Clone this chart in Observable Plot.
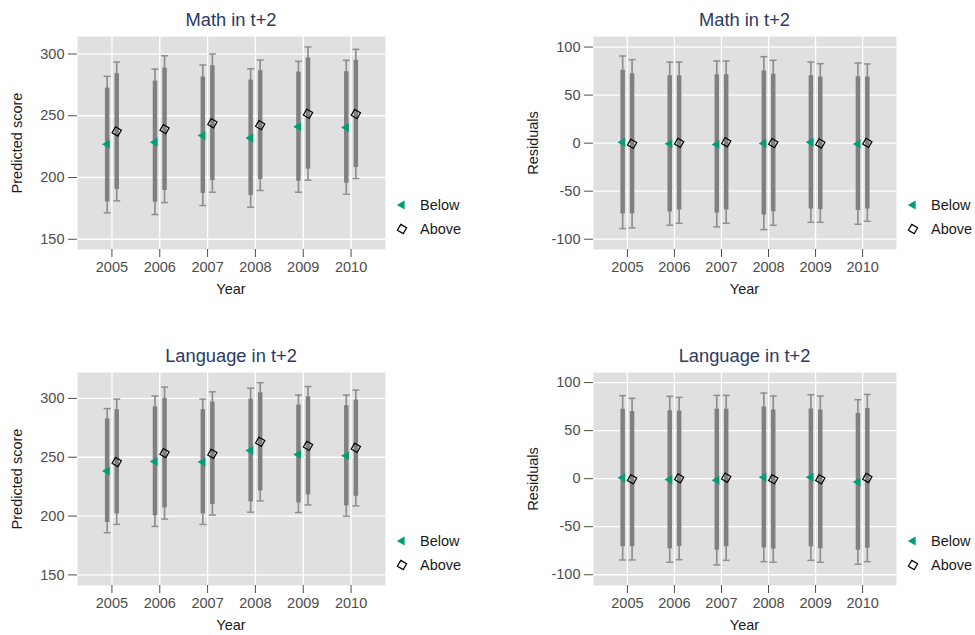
<!DOCTYPE html>
<html>
<head>
<meta charset="utf-8">
<script src="https://cdn.jsdelivr.net/npm/d3@7"></script>
<script src="https://cdn.jsdelivr.net/npm/@observablehq/plot@0.6"></script>
<style>
  body { margin: 0; background: #ffffff; }
  #root { position: relative; width: 975px; height: 635px; overflow: hidden;
          font-family: "Liberation Sans", Arial, sans-serif; }
  #root svg.panel { position: absolute; }
  .t { position: absolute; white-space: nowrap; }
</style>
</head>
<body>
<div id="root"></div>
<script>
// ---------------- data ----------------
const years = [2005, 2006, 2007, 2008, 2009, 2010];
const groups = ["Below", "Above"];
const scoreTicks = [150, 200, 250, 300];
const residTicks = [-100, -50, 0, 50, 100];
const panelTitles = ["Math in t+2", "Math in t+2", "Language in t+2", "Language in t+2"];
const yLabels = ["Predicted score", "Residuals", "Predicted score", "Residuals"];

// rows per year: [point, boxLow, boxHigh, whiskerLow, whiskerHigh]
const mathScoreBelow = [
  [227.0, 180.3, 272.4, 171.4, 281.9],
  [228.6, 180.0, 278.1, 170.0, 287.8],
  [234.0, 187.0, 281.4, 177.3, 291.1],
  [231.9, 185.4, 278.9, 175.9, 288.1],
  [241.1, 197.0, 285.4, 188.1, 294.1],
  [240.5, 195.4, 285.7, 186.5, 294.9]
];
const mathScoreAbove = [
  [237.3, 190.3, 284.0, 181.1, 293.5],
  [239.2, 189.5, 288.6, 179.7, 298.6],
  [244.0, 197.6, 290.5, 188.1, 300.0],
  [242.4, 198.4, 286.5, 189.5, 295.1],
  [251.6, 206.8, 296.8, 197.8, 305.7],
  [251.4, 208.1, 294.9, 199.2, 303.8]
];
const mathResidBelow = [
  [1.0, -73.7, 75.8, -88.9, 90.7],
  [-0.7, -71.6, 70.2, -85.5, 84.4],
  [-1.4, -72.7, 71.3, -87.2, 85.5],
  [-0.3, -74.7, 75.1, -90.0, 90.0],
  [1.0, -68.5, 70.2, -82.4, 84.4],
  [-1.0, -70.2, 69.2, -84.4, 83.4]
];
const mathResidAbove = [
  [-0.7, -73.4, 72.3, -88.2, 86.9],
  [0.3, -69.6, 70.2, -83.4, 84.4],
  [1.0, -69.6, 71.3, -83.4, 85.5],
  [0.0, -71.3, 71.6, -85.5, 86.2],
  [-0.3, -69.2, 68.9, -82.4, 82.7],
  [0.3, -68.5, 68.9, -81.3, 82.4]
];
const langScoreBelow = [
  [238.3, 194.6, 282.5, 185.8, 291.3],
  [246.4, 200.2, 292.7, 191.2, 302.0],
  [245.9, 201.9, 290.4, 192.9, 299.4],
  [255.7, 212.0, 299.4, 203.3, 308.7],
  [252.4, 211.2, 294.4, 203.0, 302.8],
  [251.2, 208.7, 293.8, 199.9, 302.8]
];
const langScoreAbove = [
  [245.9, 201.9, 290.4, 192.9, 299.4],
  [253.5, 207.0, 300.0, 197.4, 309.6],
  [252.9, 209.8, 296.9, 200.8, 305.6],
  [263.1, 221.3, 304.8, 212.9, 313.3],
  [259.7, 218.0, 301.4, 209.5, 310.1],
  [258.0, 216.8, 298.6, 208.7, 307.0]
];
const langResidBelow = [
  [1.0, -70.8, 72.2, -84.6, 86.4],
  [-1.0, -72.9, 70.8, -87.0, 85.7],
  [-1.7, -74.6, 72.2, -89.8, 86.7],
  [1.4, -72.2, 74.6, -86.4, 89.1],
  [1.4, -70.8, 72.5, -85.0, 87.4],
  [-3.5, -74.6, 67.7, -89.1, 82.2]
];
const langResidAbove = [
  [-0.7, -70.8, 69.8, -84.6, 83.6],
  [0.3, -70.5, 70.5, -84.3, 84.6],
  [1.0, -70.8, 72.2, -85.0, 86.7],
  [-0.7, -73.2, 71.5, -87.0, 86.0],
  [-0.7, -72.9, 71.5, -87.0, 86.0],
  [0.7, -72.5, 72.9, -86.4, 87.7]
];

// ---------------- styling / layout ----------------
const DODGE = 0.1;
const FONT = "'Liberation Sans', Arial, sans-serif";
const GREEN = "#009e73";
const PANEL_BG = "#e0e0e0";
const BOX_COLOR = "#808080";
const WHISKER_COLOR = "#8f8f8f";
const TITLE_COLOR = "#2b3a64";
const TICK_COLOR = "#4d4d4d";
const TRI_R = 5.2;
const SQ_R = 3.4;

const layouts = [
  {left: 0,   top: 0,   width: 487, ml: 77,  mr: 102, domain: [141.7, 314.2], ticks: scoreTicks, below: mathScoreBelow, above: mathScoreAbove},
  {left: 487, top: 0,   width: 488, ml: 106, mr: 79,  domain: [-110.7, 111],  ticks: residTicks, below: mathResidBelow, above: mathResidAbove},
  {left: 0,   top: 336, width: 487, ml: 77,  mr: 102, domain: [141, 322],     ticks: scoreTicks, below: langScoreBelow, above: langScoreAbove},
  {left: 487, top: 336, width: 488, ml: 106, mr: 79,  domain: [-111.2, 110.5], ticks: residTicks, below: langResidBelow, above: langResidAbove}
];

// custom symbols
const leftTriangle = {
  draw(ctx, size) {
    const r = Math.sqrt(size / Math.PI);
    ctx.moveTo(-r, 0);
    ctx.lineTo(r / 2, -r * Math.sqrt(3) / 2);
    ctx.lineTo(r / 2, r * Math.sqrt(3) / 2);
    ctx.closePath();
  }
};
const tiltedSquare = {
  draw(ctx, size) {
    const s = Math.sqrt(size / Math.PI);
    const a = 30 * Math.PI / 180;
    const pts = [[-s, -s], [s, -s], [s, s], [-s, s]].map(([x, y]) =>
      [x * Math.cos(a) - y * Math.sin(a), x * Math.sin(a) + y * Math.cos(a)]);
    ctx.moveTo(pts[0][0], pts[0][1]);
    for (let i = 1; i < 4; i++) ctx.lineTo(pts[i][0], pts[i][1]);
    ctx.closePath();
  }
};
const capSymbol = {
  draw(ctx, size) {
    const w = Math.sqrt(size / Math.PI);
    ctx.moveTo(-w, 0);
    ctx.lineTo(w, 0);
  }
};

function toRows(mat, group) {
  return years.map((yr, i) => ({
    year: yr, group,
    xpos: yr + (group === "Below" ? -DODGE : DODGE),
    mid: mat[i][0], lo: mat[i][1], hi: mat[i][2], wlo: mat[i][3], whi: mat[i][4]
  }));
}

const root = document.getElementById("root");

function addText(txt, x, baseline, size, color, center) {
  const d = document.createElement("div");
  d.className = "t";
  d.textContent = txt;
  d.style.fontSize = size + "px";
  d.style.lineHeight = size + "px";
  d.style.color = color;
  d.style.left = x + "px";
  d.style.top = (baseline - 0.8465 * size) + "px";
  if (center) d.style.transform = "translateX(-50%)";
  root.appendChild(d);
}
function addVText(txt, cx, cy, size, color) {
  const d = document.createElement("div");
  d.className = "t";
  d.textContent = txt;
  d.style.fontSize = size + "px";
  d.style.lineHeight = size + "px";
  d.style.color = color;
  d.style.left = cx + "px";
  d.style.top = cy + "px";
  d.style.transform = "translate(-50%, -50%) rotate(-90deg)";
  root.appendChild(d);
}
function addSymbol(sym, cx, cy, r, fill, stroke) {
  const ns = "http://www.w3.org/2000/svg";
  const s = document.createElementNS(ns, "svg");
  s.setAttribute("width", 20); s.setAttribute("height", 20);
  s.style.position = "absolute";
  s.style.left = (cx - 10) + "px";
  s.style.top = (cy - 10) + "px";
  const p = document.createElementNS(ns, "path");
  p.setAttribute("d", d3.symbol(sym, Math.PI * r * r)());
  p.setAttribute("transform", "translate(10,10)");
  p.setAttribute("fill", fill);
  if (stroke) { p.setAttribute("stroke", stroke); p.setAttribute("stroke-width", 1.2); }
  s.appendChild(p);
  root.appendChild(s);
}

layouts.forEach((L, k) => {
  const below = toRows(L.below, "Below");
  const above = toRows(L.above, "Above");
  const all = below.concat(above);

  const chart = Plot.plot({
    width: L.width, height: 310,
    marginLeft: L.ml, marginRight: L.mr, marginTop: 36, marginBottom: 61,
    style: {fontFamily: FONT, fontSize: "14.5px", background: "transparent", overflow: "visible"},
    x: {domain: [2004.28, 2010.72], label: null},
    y: {domain: L.domain, label: null},
    marks: [
      Plot.frame({fill: PANEL_BG, stroke: "#f2f2f2", strokeWidth: 1}),
      Plot.gridX(years, {stroke: "#ffffff", strokeOpacity: 1, strokeWidth: 1.3}),
      Plot.gridY(L.ticks, {stroke: "#ffffff", strokeOpacity: 1, strokeWidth: 1.3}),
      Plot.axisX(years, {tickSize: 8, tickPadding: 4, color: TICK_COLOR, tickFormat: d => String(d), label: null}),
      Plot.axisY(L.ticks, {tickSize: 9, tickPadding: 4, color: TICK_COLOR, tickFormat: d => String(d), label: null}),
      Plot.ruleX(all, {x: "xpos", y1: "wlo", y2: "whi", stroke: WHISKER_COLOR, strokeWidth: 1.7}),
      Plot.dot(all, {x: "xpos", y: "wlo", symbol: capSymbol, r: 3.5, fill: "none", stroke: WHISKER_COLOR, strokeWidth: 1.5}),
      Plot.dot(all, {x: "xpos", y: "whi", symbol: capSymbol, r: 3.5, fill: "none", stroke: WHISKER_COLOR, strokeWidth: 1.5}),
      Plot.ruleX(all, {x: "xpos", y1: "lo", y2: "hi", stroke: BOX_COLOR, strokeWidth: 4.5}),
      Plot.dot(below, {x: "xpos", y: "mid", symbol: leftTriangle, r: TRI_R, fill: GREEN, stroke: "none"}),
      Plot.dot(above, {x: "xpos", y: "mid", symbol: tiltedSquare, r: SQ_R, fill: "none", stroke: "#000000", strokeWidth: 1.2})
    ]
  });
  chart.classList.add("panel");
  chart.style.left = L.left + "px";
  chart.style.top = L.top + "px";
  root.appendChild(chart);

  const plotLeft = L.left + L.ml;
  const plotRight = L.left + L.width - L.mr;
  const cx = (plotLeft + plotRight) / 2;
  const py = L.top;

  addText(panelTitles[k], cx, py + 26, 18.3, TITLE_COLOR, true);
  addText("Year", cx, py + 294, 14.5, "#1a1a1a", true);
  addVText(yLabels[k], L.left + L.ml - 60.5, py + 142.5, 14.5, "#1a1a1a");

  // legend
  const symX = plotRight + 17;
  const txtX = plotRight + 35;
  addSymbol(leftTriangle, symX, py + 205, TRI_R, GREEN, null);
  addText(groups[0], txtX, py + 210, 14.5, "#1a1a1a", false);
  addSymbol(tiltedSquare, symX, py + 229.3, SQ_R, "#ffffff", "#000000");
  addText(groups[1], txtX, py + 234.5, 14.5, "#1a1a1a", false);
});
</script>
</body>
</html>
